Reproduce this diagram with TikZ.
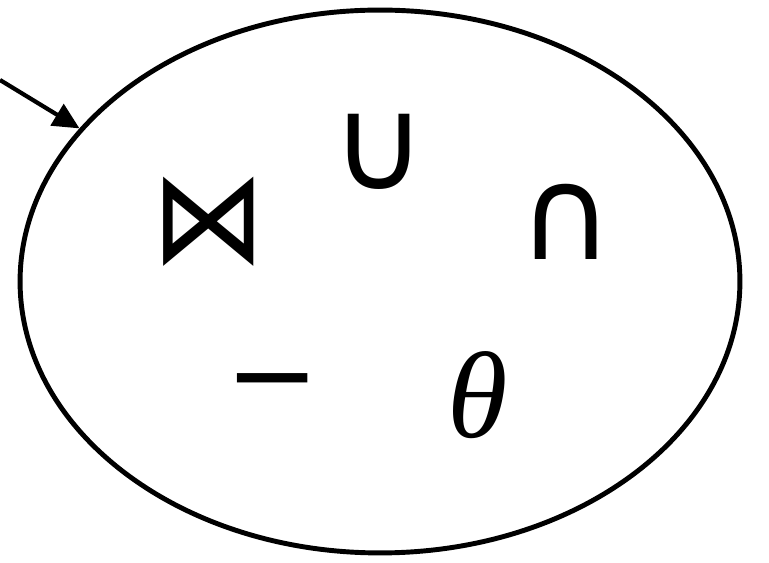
\documentclass[tikz,border=0pt]{standalone}
\usepackage{fontspec}
\usetikzlibrary{arrows.meta, positioning, shapes.geometric}
\newfontfamily\opfont{DejaVu Sans}
\newfontfamily\thfont{Liberation Serif}
\tikzset{
  opset/.style  = {ellipse, draw=black, line width=2.8pt, fill=white,
                   minimum width=14.4cm, minimum height=10.86cm, inner sep=0pt},
  op/.style     = {font=\opfont\fontsize{74}{74}\selectfont, inner sep=0pt},
  arrow/.style  = {-{Triangle[length=15pt, width=14pt]}, line width=2.4pt},
}
\begin{document}
\begin{tikzpicture}[x=0.02cm, y=-0.02cm]
  \useasboundingbox (0,0) rectangle (769,563);
  \node[opset] (ops) at (380,281.5) {};
  \node[op] (join) at (209,222) {\scalebox{0.88}[1]{⋈}};
  \node[op] (union) at (379,152) {∪};
  \node[op] (inter) at (566,222) {∩};
  \node[op, font=\opfont\fontsize{64}{64}\selectfont] (minus) at (273,394) {−};
  \node[inner sep=0pt, font=\thfont\itshape\fontsize{70}{70}\selectfont] (sel) at (478,395) {θ};
  \coordinate (src) at (0,80);
  \draw[arrow] (src) -- (ops.153.9);
\end{tikzpicture}
\end{document}
